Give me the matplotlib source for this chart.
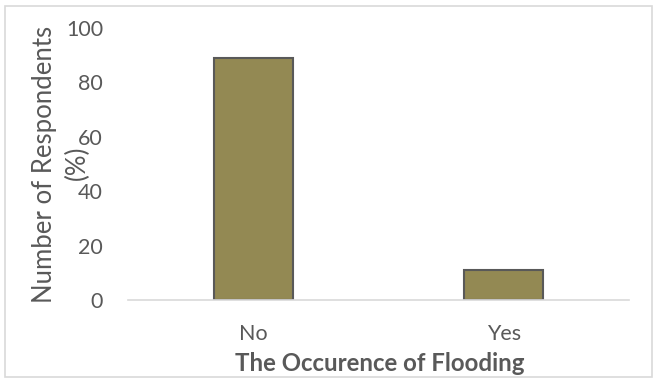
import matplotlib
matplotlib.use("Agg")
import matplotlib.pyplot as plt
from matplotlib.patches import Rectangle

categories = ["No", "Yes"]
respondents_pct = [89, 11]
y_ticks = [0, 20, 40, 60, 80, 100]

TEXT = "#595959"
BAR = "#938953"
EDGE = "#595959"

plt.rcParams["font.family"] = ["Lato", "DejaVu Sans"]

fig = plt.figure(figsize=(6.53, 3.79), dpi=100)
ax = fig.add_axes([0.196, 0.2084, 0.767, 0.7176])

ax.bar(categories, respondents_pct, width=0.317, color=BAR,
       edgecolor=EDGE, linewidth=1.5)

ax.set_xlim(-0.5, 1.5)
ax.set_ylim(0, 100)
ax.set_yticks(y_ticks)
ax.tick_params(axis="both", length=0, labelsize=15.5, colors=TEXT)
ax.tick_params(axis="y", pad=18)
ax.tick_params(axis="x", pad=17)

for side in ["top", "right", "left"]:
    ax.spines[side].set_visible(False)
ax.spines["bottom"].set_color("#d9d9d9")
ax.spines["bottom"].set_linewidth(1.2)

# y title wraps onto a second line, "(%)" sits just left of the tick labels
ax.set_ylabel("Number of Respondents", fontsize=18.5, color=TEXT, va="center")
ax.yaxis.set_label_coords(-0.166, 0.5)
ax.text(-0.102, 0.505, "(%)", transform=ax.transAxes, rotation=90,
        ha="center", va="center", fontsize=18.5, color=TEXT)

ax.set_xlabel("The Occurence of Flooding", fontsize=17.3, color=TEXT,
              fontweight="bold")
ax.xaxis.set_label_coords(0.503, -0.19)

# light frame around the whole chart area
fig.add_artist(Rectangle((0.008, 0.005), 0.99, 0.98, transform=fig.transFigure,
                         fill=False, edgecolor="#d9d9d9", linewidth=1.2))

fig.savefig("out.png", dpi=100)
